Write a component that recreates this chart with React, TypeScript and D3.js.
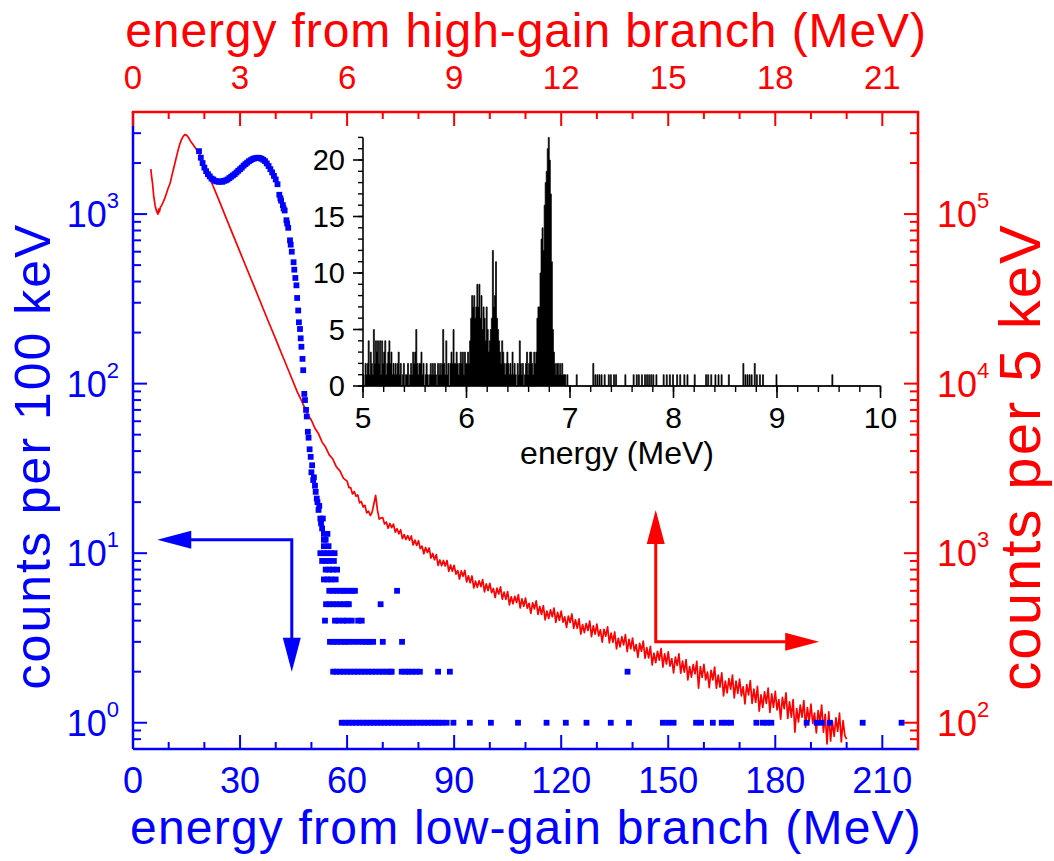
import React from 'react';
import * as d3 from 'd3';

const FONT = '"Liberation Sans", Arial, Helvetica, sans-serif';
const BLUE = '#0000ff';
const RED = '#ff0000';

// axes ticks
const bottomTicks = [0, 30, 60, 90, 120, 150, 180, 210];
const bottomMinor = [10, 20, 40, 50, 70, 80, 100, 110, 130, 140, 160, 170, 190, 200];
const topTicks = [0, 3, 6, 9, 12, 15, 18, 21];
const topMinor = [1, 2, 4, 5, 7, 8, 10, 11, 13, 14, 16, 17, 19, 20];
const leftTicks = [1, 10, 100, 1000];
const leftMinor = [0.8, 0.9, 2, 3, 4, 5, 6, 7, 8, 9, 20, 30, 40, 50, 60, 70, 80, 90, 200, 300, 400, 500, 600, 700, 800, 900, 2000, 3000];
const rightTicks = [100, 1000, 10000, 100000];
const rightMinor = [80, 90, 200, 300, 400, 500, 600, 700, 800, 900, 2000, 3000, 4000, 5000, 6000, 7000, 8000, 9000, 20000, 30000, 40000, 50000, 60000, 70000, 80000, 90000, 200000, 300000];
const insetXTicks = [5, 6, 7, 8, 9, 10];
const insetYTicks = [0, 5, 10, 15, 20];

// low-gain branch, counts per 100 keV (blue squares)
const blueMainE = [18.5, 19, 19.5, 20, 20.5, 21, 21.5, 22, 22.5, 23, 23.5, 24, 24.5, 25, 25.5, 26, 26.5, 27, 27.5, 28, 28.5, 29, 29.5, 30, 30.5, 31, 31.5, 32, 32.5, 33, 33.5, 34, 34.5, 35, 35.5, 36, 36.5, 37, 37.5, 38, 38.5, 39, 39.5, 40, 40.5, 41, 41.5, 42, 42.5, 43, 43.5, 44, 44.5, 45, 45.5, 46, 46.5, 47, 47.5, 48, 48.5, 49, 49.5, 50, 50.5, 51, 51.5, 52, 52.5, 53];
const blueMainC = [2350, 2150, 2000, 1880, 1790, 1720, 1670, 1620, 1600, 1570, 1560, 1550, 1560, 1550, 1570, 1580, 1600, 1630, 1660, 1690, 1720, 1760, 1800, 1840, 1880, 1930, 1970, 2010, 2050, 2080, 2110, 2130, 2140, 2150, 2140, 2120, 2090, 2050, 1990, 1920, 1840, 1760, 1680, 1600, 1500, 1300, 1200, 1130, 1050, 920, 830, 700, 600, 520, 420, 320, 230, 185, 140, 87, 70, 52, 41, 30, 27, 25, 21, 18, 16, 14];
const blueSteep: [number, number][] = [
  [41.3, 1240], [42.2, 1080], [43.2, 880], [44.2, 660], [45.2, 470], [45.8, 380], [46.3, 270], [46.8, 210], [47.2, 165], [47.7, 120],
  [48.2, 80], [48.7, 64], [49.2, 48], [49.8, 37], [50.2, 33], [50.7, 28], [51.2, 23], [51.7, 20], [52.2, 19], [52.7, 15], [53.2, 16],
];
const blueTail: [number, number][] = [
  [53.5, 13], [54.5, 13], [53.5, 12], [54, 12], [53.5, 11], [54.8, 11],
  [52.5, 10], [53.5, 10], [54.5, 10], [55.5, 10], [56.5, 10],
  [53, 9], [54, 9], [55, 9], [56.3, 9],
  [54, 8], [55, 8], [56, 8], [57.2, 8],
  [53.5, 7], [54.5, 7], [55.5, 7], [56.8, 7],
  [55, 6], [56, 6], [57, 6], [58, 6], [58.9, 6], [59.6, 6], [60.6, 6], [61.5, 6], [62.2, 6], [74, 6],
  [54.1, 5], [55.1, 5], [56.1, 5], [57.1, 5], [58.1, 5], [59.1, 5], [60.1, 5], [60.5, 5], [69.4, 5],
  [53.8, 4], [56.6, 4], [57.6, 4], [58.9, 4], [59.9, 4], [61.3, 4], [63.1, 4], [64.1, 4],
  [55.2, 3], [56.2, 3], [57.2, 3], [58.3, 3], [59.4, 3], [60.2, 3], [61.6, 3], [63, 3], [64.4, 3], [65.3, 3], [66.3, 3], [67.3, 3], [70, 3], [75.4, 3],
  [56.1, 2], [57, 2], [58, 2], [59, 2], [60, 2], [61, 2], [62, 2], [63, 2], [64, 2], [65, 2], [66, 2], [67, 2], [68, 2], [69, 2], [70, 2], [71, 2], [72, 2], [72.5, 2],
  [75.3, 2], [76.3, 2], [77.3, 2], [78.3, 2], [79.3, 2], [80.4, 2], [85.5, 2], [88.8, 2], [138.6, 2],
  [58.5, 1], [59.5, 1], [60.5, 1], [61.5, 1], [62.5, 1], [63.5, 1], [64.5, 1], [65.5, 1], [66.5, 1], [67.5, 1], [68.5, 1], [69.5, 1], [70.5, 1], [71.5, 1], [72.5, 1], [73.5, 1], [74.5, 1], [75.5, 1], [76.5, 1], [77.5, 1], [78.5, 1], [79.5, 1],
  [80.6, 1], [81.6, 1], [82.6, 1], [83.6, 1], [84.6, 1], [85.6, 1], [86.6, 1], [87.9, 1],
  [89.8, 1], [94.4, 1], [100.3, 1], [107.9, 1], [115.9, 1], [121.3, 1], [127.1, 1], [133.9, 1], [139, 1],
  [148.5, 1], [150, 1], [151.5, 1], [157.8, 1], [159.2, 1], [162.5, 1], [165, 1], [166.3, 1], [167.6, 1],
  [174.7, 1], [176.5, 1], [177.7, 1], [178.9, 1], [188.8, 1], [191.6, 1], [193, 1], [195.3, 1], [204.5, 1], [215.4, 1],
];

// high-gain branch, counts per 5 keV (red line), energy in high-gain MeV
const redSmooth: [number, number][] = [
  [0.5, 184000], [0.52, 168000], [0.55, 150000], [0.58, 128000], [0.62, 112000], [0.66, 104000], [0.7, 100000], [0.72, 107000], [0.74, 103000], [0.77, 110000],
  [0.8, 112000], [0.84, 117000], [0.88, 122000], [0.93, 131000], [0.98, 141000], [1.04, 152000], [1.1, 172000], [1.15, 190000], [1.2, 210000], [1.25, 232000],
  [1.3, 254000], [1.35, 272000], [1.4, 286000], [1.45, 294000], [1.5, 292000], [1.55, 284000], [1.6, 272000], [1.7, 254000], [1.8, 237000], [1.9, 220000],
  [2.0, 195000], [2.2, 154000], [2.4, 122000], [2.6, 96000], [2.8, 75700], [3.0, 59700], [3.2, 47100], [3.4, 37200], [3.6, 29300], [3.8, 23100],
  [4.0, 18300], [4.2, 14400], [4.4, 11400], [4.6, 8970], [4.7, 8130], [4.8, 7300], [4.9, 6550], [5.0, 6080], [5.1, 5450], [5.2, 5060],
  [5.3, 4520], [5.4, 4210], [5.5, 3800], [5.6, 3590], [5.7, 3230], [5.8, 3060], [5.9, 2760],
];
const redNoisyStart = 6.0;
const redNoisyStep = 0.05;
const redNoisy = [
  2663, 2438, 2437, 2238, 2310, 2167, 2207, 1981, 2017, 1871,
  1916, 1730, 1772, 1668, 1740, 1950, 2190, 1800, 1588, 1612,
  1620, 1487, 1524, 1403, 1497, 1416, 1484, 1330, 1394, 1301,
  1375, 1218, 1287, 1204, 1271, 1192, 1263, 1118, 1194, 1111,
  1185, 1065, 1101, 992, 1081, 1009, 1074, 936, 996, 914,
  982, 847, 912, 843, 906, 840, 906, 781, 852, 782,
  848, 753, 790, 704, 786, 730, 792, 677, 735, 669,
  734, 624, 684, 629, 687, 635, 698, 592, 659, 602,
  664, 585, 619, 548, 622, 575, 632, 535, 589, 534,
  594, 496, 553, 503, 557, 512, 569, 475, 538, 486,
  544, 473, 506, 441, 510, 469, 523, 435, 485, 435,
  491, 404, 456, 412, 463, 422, 475, 391, 448, 402,
  455, 392, 421, 365, 426, 390, 438, 360, 405, 361,
  410, 333, 379, 340, 385, 350, 398, 322, 373, 333,
  382, 325, 353, 299, 356, 324, 368, 296, 338, 298,
  343, 273, 315, 280, 322, 288, 331, 263, 310, 273,
  316, 265, 289, 243, 294, 264, 303, 240, 277, 241,
  282, 219, 257, 226, 264, 234, 274, 213, 255, 222,
  262, 216, 239, 197, 244, 218, 255, 196, 231, 199,
  236, 179, 214, 186, 220, 194, 230, 160, 214, 185,
  221, 179, 199, 161, 204, 179, 213, 160, 191, 162,
  197, 144, 176, 150, 182, 158, 191, 140, 176, 149,
  181, 144, 163, 129, 168, 146, 177, 130, 158, 132,
  164, 117, 146, 123, 152, 130, 160, 115, 148, 123,
  153, 119, 137, 105, 141, 121, 150, 106, 133, 108,
  137, 88, 121, 101, 127, 108, 135, 94, 123, 102,
  129, 99, 114, 87, 118, 101, 127, 88, 112, 75,
  116, 78, 102, 83, 107, 89, 114, 77, 103, 84,
  80,
];

// inset: counts per 10 keV bin from 5.00 MeV
const insetStart = 5.0;
const insetBin = 0.01;
const insetCounts = [
  1, 0, 2, 1, 2, 4, 1, 3, 2, 1,
  5, 2, 4, 3, 4, 2, 4, 1, 4, 2,
  3, 4, 1, 2, 3, 4, 2, 3, 1, 2,
  1, 2, 1, 2, 3, 1, 2, 0, 1, 2,
  0, 1, 1, 2, 0, 1, 2, 1, 3, 2,
  3, 5, 2, 1, 2, 2, 3, 1, 2, 0,
  1, 2, 1, 0, 1, 2, 1, 2, 1, 2,
  1, 0, 2, 1, 2, 1, 2, 5, 2, 1,
  4, 1, 2, 0, 2, 3, 2, 5, 2, 2,
  3, 2, 1, 2, 3, 2, 3, 1, 3, 2,
  2, 3, 2, 4, 6, 8, 7, 8, 6, 7,
  9, 7, 9, 6, 8, 5, 7, 6, 4, 7,
  5, 3, 4, 5, 6, 12, 7, 8, 11, 6,
  5, 4, 3, 2, 4, 3, 2, 1, 2, 3,
  2, 1, 2, 1, 3, 1, 2, 1, 0, 2,
  1, 4, 2, 1, 2, 0, 1, 2, 3, 1,
  2, 3, 3, 2, 1, 3, 2, 3, 6, 7,
  7, 10, 13, 14, 12, 16, 18, 19, 21, 22,
  20, 17, 11, 5, 3, 2, 1, 2, 2, 1,
  2, 1, 2, 1, 1, 1, 0, 1, 0, 0,
];
const insetSparse: [number, number][] = [
  [7.06, 1], [7.22, 2], [7.24, 1], [7.26, 1], [7.28, 1], [7.3, 1], [7.33, 1], [7.37, 1], [7.39, 1], [7.42, 1], [7.44, 1],
  [7.53, 1], [7.61, 1], [7.64, 1], [7.66, 1], [7.69, 1], [7.72, 1], [7.74, 1], [7.76, 1], [7.78, 1], [7.8, 1], [7.83, 1],
  [7.9, 1], [7.93, 1], [7.96, 1], [7.99, 1], [8.03, 1], [8.06, 1], [8.1, 1], [8.13, 1], [8.2, 1],
  [8.31, 1], [8.33, 1], [8.36, 1], [8.4, 1], [8.43, 1], [8.46, 1], [8.53, 1],
  [8.67, 2], [8.69, 1], [8.71, 1], [8.73, 1], [8.75, 1], [8.78, 2], [8.8, 1], [8.83, 1], [8.86, 1], [8.99, 1], [9.53, 1],
];

function headPoints(tip: [number, number], dir: [number, number], len = 34, half = 9) {
  const bx = tip[0] - dir[0] * len;
  const by = tip[1] - dir[1] * len;
  return `${tip[0]},${tip[1]} ${bx - dir[1] * half},${by + dir[0] * half} ${bx + dir[1] * half},${by - dir[0] * half}`;
}

function Sup({ x, y, base, exp, anchor, color }: any) {
  return (
    <text x={x} y={y} textAnchor={anchor} fill={color} fontSize={36} fontFamily={FONT}>
      <tspan>{base}</tspan>
      <tspan dy={-19} fontSize={22}>{exp}</tspan>
    </text>
  );
}

export default function App() {
  const x = d3.scaleLinear().domain([0, 220]).range([133, 918]);
  const xTop = d3.scaleLinear().domain([0, 22]).range([133, 918]);
  const yL = d3.scaleLog().domain([0.7, 4000]).range([749, 112]);
  const yR = d3.scaleLog().domain([70, 400000]).range([749, 112]);
  const xi = d3.scaleLinear().domain([5, 10]).range([363, 880.5]);
  const yi = d3.scaleLinear().domain([0, 22]).range([386, 137.4]);

  const redData: [number, number][] = redSmooth.concat(
    redNoisy.map((c, i) => [redNoisyStart + i * redNoisyStep, c] as [number, number])
  );
  const redPath = d3.line<[number, number]>().x(d => xTop(d[0])).y(d => yR(d[1]))(redData) || '';

  const bluePts: [number, number][] = blueMainE
    .map((e, i) => [e, blueMainC[i]] as [number, number])
    .concat(blueSteep, blueTail);

  const sparse = new Map(insetSparse.map(([e, c]) => [Math.round(e * 100), c]));
  const bins: [number, number][] = d3.range(500).map(i => {
    const c = i < insetCounts.length ? insetCounts[i] : sparse.get(500 + i) ?? 0;
    return [insetStart + i * insetBin, c] as [number, number];
  });
  bins.push([10, 0]);
  const histPath = d3.area<[number, number]>()
    .curve(d3.curveStepAfter)
    .x(d => xi(d[0]))
    .y0(yi(0))
    .y1(d => yi(d[1]))(bins) || '';

  // arrows, anchored in data coordinates
  const bc: [number, number] = [x(44.5), yL(12)];
  const bTipL: [number, number] = [x(6.8), yL(12)];
  const bTipD: [number, number] = [x(44.5), yL(2)];
  const rc: [number, number] = [x(146.5), yR(300)];
  const rTipU: [number, number] = [x(146.5), yR(1800)];
  const rTipR: [number, number] = [x(192.3), yR(300)];

  const L = 133, R = 918, T = 112, B = 749;

  return (
    <svg width={1054} height={861} style={{ position: 'absolute', left: 0, top: 0, background: '#fff' }}>
      {/* red line (high gain) */}
      <path d={redPath} fill="none" stroke={RED} strokeWidth={1.7} strokeLinejoin="round" />
      {/* blue squares (low gain) */}
      {bluePts.map((d, i) => (
        <rect key={i} x={x(d[0]) - 2.9} y={yL(d[1]) - 2.9} width={5.8} height={5.8} fill={BLUE} />
      ))}

      {/* frame */}
      <line x1={L} x2={L} y1={T} y2={B} stroke={BLUE} strokeWidth={2.5} />
      <line x1={L} x2={R} y1={B} y2={B} stroke={BLUE} strokeWidth={2.5} />
      <line x1={R} x2={R} y1={T} y2={B + 1.2} stroke={RED} strokeWidth={2.5} />
      <line x1={L - 1.2} x2={R + 1.2} y1={T} y2={T} stroke={RED} strokeWidth={2.5} />

      {/* bottom ticks */}
      {bottomTicks.map(t => (
        <g key={'b' + t}>
          <line x1={x(t)} x2={x(t)} y1={B} y2={B - 14} stroke={BLUE} strokeWidth={2} />
          <text x={x(t)} y={793} textAnchor="middle" fill={BLUE} fontSize={36} fontFamily={FONT}>{t}</text>
        </g>
      ))}
      {bottomMinor.map(t => (
        <line key={'bm' + t} x1={x(t)} x2={x(t)} y1={B} y2={B - 7} stroke={BLUE} strokeWidth={2} />
      ))}
      {/* top ticks */}
      {topTicks.map(t => (
        <g key={'t' + t}>
          <line x1={xTop(t)} x2={xTop(t)} y1={T} y2={T + 14} stroke={RED} strokeWidth={2} />
          <text x={xTop(t)} y={89} textAnchor="middle" fill={RED} fontSize={33} fontFamily={FONT}>{t}</text>
        </g>
      ))}
      {topMinor.map(t => (
        <line key={'tm' + t} x1={xTop(t)} x2={xTop(t)} y1={T} y2={T + 7} stroke={RED} strokeWidth={2} />
      ))}
      {/* left ticks */}
      {leftTicks.map(t => (
        <g key={'l' + t}>
          <line x1={L} x2={L + 14} y1={yL(t)} y2={yL(t)} stroke={BLUE} strokeWidth={2} />
          <Sup x={119} y={yL(t) + 13} base="10" exp={Math.round(Math.log10(t))} anchor="end" color={BLUE} />
        </g>
      ))}
      {leftMinor.map(t => (
        <line key={'lm' + t} x1={L} x2={L + 8} y1={yL(t)} y2={yL(t)} stroke={BLUE} strokeWidth={2} />
      ))}
      {/* right ticks */}
      {rightTicks.map(t => (
        <g key={'r' + t}>
          <line x1={R} x2={R - 14} y1={yR(t)} y2={yR(t)} stroke={RED} strokeWidth={2} />
          <Sup x={937} y={yR(t) + 13} base="10" exp={Math.round(Math.log10(t))} anchor="start" color={RED} />
        </g>
      ))}
      {rightMinor.map(t => (
        <line key={'rm' + t} x1={R} x2={R - 8} y1={yR(t)} y2={yR(t)} stroke={RED} strokeWidth={2} />
      ))}

      {/* axis titles */}
      <text x={526} y={47} textAnchor="middle" fill={RED} fontSize={48} letterSpacing={0.9} fontFamily={FONT}>
        energy from high-gain branch (MeV)
      </text>
      <text x={526} y={844} textAnchor="middle" fill={BLUE} fontSize={48} letterSpacing={1.2} fontFamily={FONT}>
        energy from low-gain branch (MeV)
      </text>
      <text transform="translate(50,456) rotate(-90)" textAnchor="middle" fill={BLUE} fontSize={50} letterSpacing={2} fontFamily={FONT}>
        counts per 100 keV
      </text>
      <text transform="translate(1040,457) rotate(-90)" textAnchor="middle" fill={RED} fontSize={58} letterSpacing={2} fontFamily={FONT}>
        counts per 5 keV
      </text>

      {/* arrows */}
      <path d={`M${bTipL[0] + 30},${bc[1]} L${bc[0]},${bc[1]} L${bc[0]},${bTipD[1] - 30}`} fill="none" stroke={BLUE} strokeWidth={3} />
      <polygon points={headPoints(bTipL, [-1, 0])} fill={BLUE} />
      <polygon points={headPoints(bTipD, [0, 1])} fill={BLUE} />
      <path d={`M${rc[0]},${rTipU[1] + 30} L${rc[0]},${rc[1]} L${rTipR[0] - 30},${rc[1]}`} fill="none" stroke={RED} strokeWidth={3} />
      <polygon points={headPoints(rTipU, [0, -1])} fill={RED} />
      <polygon points={headPoints(rTipR, [1, 0])} fill={RED} />

      {/* inset */}
      <path d={histPath} fill="#000" stroke="#000" strokeWidth={0.7} />
      <line x1={xi(5)} x2={xi(10)} y1={yi(0)} y2={yi(0)} stroke="#000" strokeWidth={1.6} />
      <line x1={xi(5)} x2={xi(5)} y1={yi(0)} y2={yi(22)} stroke="#000" strokeWidth={1.6} />
      {d3.range(5, 10.001, 0.2).map(t => (
        <line key={'ixm' + t} x1={xi(t)} x2={xi(t)} y1={yi(0)} y2={yi(0) + 6} stroke="#000" strokeWidth={1.4} />
      ))}
      {insetXTicks.map(t => (
        <g key={'ix' + t}>
          <line x1={xi(t)} x2={xi(t)} y1={yi(0)} y2={yi(0) + 12} stroke="#000" strokeWidth={1.6} />
          <text x={xi(t)} y={428} textAnchor="middle" fontSize={30} fontFamily={FONT} fill="#000">{t}</text>
        </g>
      ))}
      {d3.range(0, 22.5, 1).map(t => (
        <line key={'iym' + t} x1={xi(5)} x2={xi(5) - 5} y1={yi(t)} y2={yi(t)} stroke="#000" strokeWidth={1.4} />
      ))}
      {insetYTicks.map(t => (
        <g key={'iy' + t}>
          <line x1={xi(5)} x2={xi(5) - 10} y1={yi(t)} y2={yi(t)} stroke="#000" strokeWidth={1.6} />
          <text x={345} y={yi(t) + 10} textAnchor="end" fontSize={29} fontFamily={FONT} fill="#000">{t}</text>
        </g>
      ))}
      <text x={617} y={464} textAnchor="middle" fontSize={32} fontFamily={FONT} fill="#000">energy (MeV)</text>
    </svg>
  );
}
